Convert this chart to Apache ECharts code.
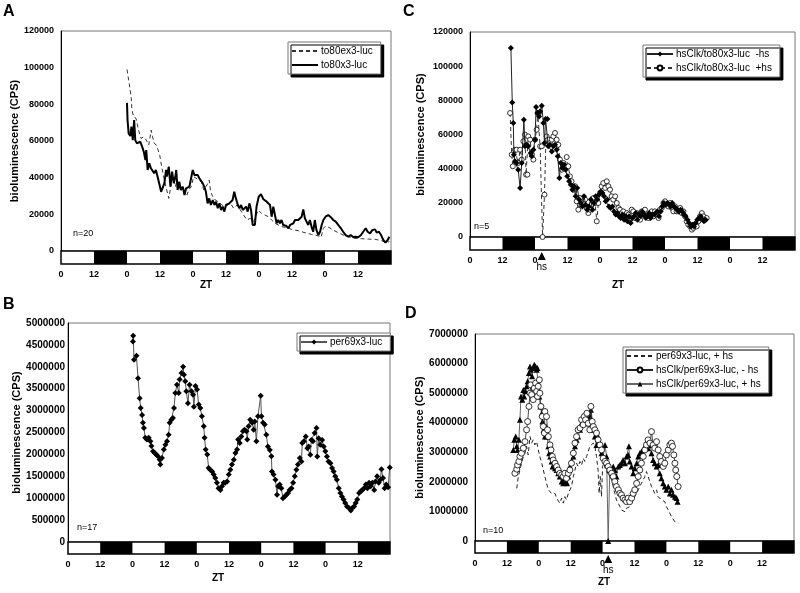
<!DOCTYPE html>
<html><head><meta charset="utf-8">
<script src="https://cdn.jsdelivr.net/npm/echarts@6/dist/echarts.min.js"></script>
<style>html,body{margin:0;padding:0;background:#fff}#c{width:800px;height:593px}</style>
</head><body><div id="c"></div>
<script>
// ---------- DATA ----------
const xTickLabels = ['0','12','0','12','0','12','0','12','0','12',''];
const ldDark = [[12,24],[36,48],[60,72],[84,96],[108,120]];

// Panel A
const aDashed = [[24.0,99000],[24.8,91400],[25.5,84000],[25.8,76800],[26.4,73200],[27.3,72300],[28.2,65900],[29.1,61400],[30.1,62300],[31.0,60500],[31.9,57800],[32.8,65900],[33.3,62300],[33.9,58700],[34.7,57800],[35.3,55100],[35.9,52300],[36.5,46900],[37.1,42400],[37.7,37800],[38.3,34200],[39.2,28700],[39.8,34200],[40.4,40600],[41.0,37800],[41.6,35100],[42.2,38700],[43.0,34200],[44.0,35100],[44.9,32300],[45.8,30500],[46.4,33300],[47.4,35100],[48.2,40600],[49.1,39700],[50.0,38700],[51.0,37800],[51.9,33300],[52.7,35100],[53.4,36900],[53.9,38700],[54.4,32300],[55.2,29600],[56.1,27800],[57.1,26900],[58.0,26000],[59.2,24200],[60.4,25100],[61.6,26000],[62.8,23300],[64.0,25100],[65.2,22400],[66.4,19600],[67.6,16900],[68.8,17800],[70.1,16000],[70.5,16900],[71.7,22300],[72.9,20500],[74.2,19600],[75.4,18700],[76.6,16900],[77.8,15100],[79.0,14200],[80.2,13300],[81.4,12900],[82.7,12400],[83.9,11800],[85.1,11400],[86.3,11100],[87.5,10500],[88.7,10000],[89.9,9600],[91.1,9000],[92.3,8700],[93.6,8200],[94.6,7500],[95.4,12400],[96.2,13600],[97.4,12900],[99.0,11400],[100.8,10000],[102.6,8700],[104.5,7800],[106.9,6900],[109.3,6700],[111.7,6500],[114.2,6400],[116.6,5600],[118.4,4600],[119.4,5100]];
const aSolid = [[24.0,80800],[24.2,71400],[24.6,64100],[25.2,62700],[25.6,67800],[26.1,60500],[26.6,71400],[27.0,60500],[27.6,58700],[28.2,57800],[28.8,59600],[29.5,56900],[30.1,54200],[30.7,49600],[31.0,55100],[31.5,44200],[32.1,47800],[32.7,45100],[33.3,46000],[33.9,42400],[34.5,44200],[35.1,40600],[35.7,37000],[36.4,32300],[37.0,33300],[37.6,37000],[38.2,44200],[38.5,40600],[39.2,46000],[39.8,35100],[40.4,43300],[41.0,37000],[41.6,40600],[41.9,44200],[42.4,33300],[43.0,37800],[43.6,33300],[44.3,35100],[44.9,30500],[45.5,34200],[46.1,33300],[46.7,35100],[47.3,36000],[47.9,44200],[48.5,41500],[49.1,40600],[49.7,41500],[50.3,39700],[50.9,38700],[51.5,37000],[52.1,35100],[52.7,32300],[53.3,26000],[53.9,28700],[54.5,25100],[55.2,27800],[55.8,25100],[56.4,26900],[57.0,23300],[57.6,26000],[58.2,22400],[58.8,24200],[59.4,21500],[60.0,25100],[60.6,24200],[61.2,26000],[61.8,25100],[62.4,27800],[63.0,32300],[63.6,28700],[64.3,25100],[64.9,23300],[65.5,25100],[66.1,22400],[66.7,21500],[67.3,24200],[67.9,21500],[68.5,26000],[69.1,22400],[69.7,14200],[70.3,13300],[70.5,14200],[71.1,24200],[71.9,29600],[72.7,31000],[73.6,28200],[74.2,28700],[74.8,26900],[75.4,27800],[76.0,25100],[76.6,18700],[77.2,24200],[77.8,24500],[78.4,15100],[79.0,16900],[79.6,15100],[80.2,16900],[80.8,14200],[81.4,13300],[82.0,13600],[82.7,12400],[83.3,14200],[83.9,13300],[84.5,15100],[85.1,16900],[85.7,16000],[86.3,16900],[86.9,16900],[87.5,18700],[88.1,22700],[88.7,17800],[89.3,16900],[89.9,14200],[90.5,16900],[91.1,13300],[91.7,10500],[92.3,16900],[92.9,11400],[93.6,8700],[94.2,10500],[94.8,14200],[95.4,16900],[96.2,18700],[97.2,19600],[98.2,18300],[99.0,16900],[99.9,16000],[100.8,14200],[101.8,12400],[102.6,10500],[103.5,8700],[104.5,7800],[105.4,8700],[106.3,7500],[107.1,7800],[108.1,7500],[109.1,8700],[109.9,10500],[110.8,12400],[111.5,10500],[112.4,9600],[113.2,11400],[114.2,11800],[114.8,10000],[115.6,10500],[116.4,8700],[117.2,6000],[118.0,4600],[118.8,6000],[119.4,7800]];

// Panel B
const bPer = [[24.2,4580000],[24.3,4710000],[24.6,4160000],[25.5,4250000],[26.1,3740000],[26.7,3280000],[27.1,3060000],[27.6,2900000],[27.9,2720000],[28.3,2600000],[28.8,2380000],[29.4,2340000],[30.1,2380000],[30.7,2300000],[31.1,2190000],[31.7,2070000],[32.3,2030000],[32.9,2000000],[33.5,1960000],[34.2,1880000],[34.4,1770000],[35.0,1920000],[35.7,2110000],[36.3,2220000],[36.9,2300000],[37.5,2450000],[37.9,2720000],[38.5,2790000],[39.1,2830000],[39.5,3060000],[40.0,3400000],[40.6,3590000],[41.3,3400000],[41.6,3710000],[42.3,3860000],[42.9,4000000],[43.2,3820000],[43.7,3670000],[44.1,3440000],[44.7,3170000],[45.3,3590000],[46.0,3440000],[46.6,3360000],[46.9,3090000],[47.5,3560000],[48.1,3480000],[48.7,3140000],[49.3,3060000],[49.9,2870000],[50.6,2640000],[50.9,2380000],[51.3,2110000],[51.9,2000000],[52.4,1690000],[53.0,1650000],[53.7,1610000],[54.3,1540000],[54.9,1460000],[55.5,1350000],[56.1,1230000],[56.8,1190000],[57.4,1270000],[58.0,1350000],[58.6,1350000],[59.3,1380000],[59.9,1540000],[60.5,1650000],[61.1,1770000],[61.8,1880000],[62.4,2030000],[63.0,2110000],[63.4,2340000],[64.0,2260000],[64.6,2410000],[65.2,2530000],[65.8,2560000],[66.5,2530000],[66.8,2340000],[67.3,2640000],[67.9,2790000],[68.6,2720000],[69.2,2560000],[69.6,2750000],[70.2,2300000],[70.8,2870000],[71.8,3340000],[72.1,2870000],[72.7,2720000],[73.3,2680000],[73.9,2450000],[74.5,2180000],[75.2,2100000],[75.8,1960000],[76.0,1610000],[76.6,1540000],[77.3,1420000],[77.9,1080000],[78.3,1270000],[78.9,1310000],[79.5,1230000],[80.1,1000000],[80.8,1040000],[81.4,1080000],[82.0,1120000],[82.6,1190000],[83.3,1230000],[83.9,1350000],[84.5,1500000],[85.1,1650000],[85.7,1770000],[86.4,1920000],[87.0,1840000],[87.3,2260000],[87.9,2300000],[88.6,2410000],[89.2,2140000],[89.7,2180000],[90.3,1990000],[90.7,2330000],[91.3,2300000],[91.9,2490000],[92.6,2600000],[92.9,1950000],[93.4,2370000],[94.0,2220000],[94.7,2330000],[95.3,2180000],[95.9,2070000],[96.5,1950000],[97.1,1840000],[97.8,1800000],[98.4,1690000],[99.0,1610000],[99.6,1500000],[100.2,1420000],[100.9,1230000],[101.5,1120000],[102.1,1040000],[102.7,970000],[103.3,890000],[104.0,810000],[104.6,780000],[105.4,720000],[106.0,780000],[106.6,810000],[107.2,890000],[107.8,970000],[108.5,1120000],[109.1,1160000],[109.7,1190000],[110.3,1230000],[111.0,1310000],[111.6,1230000],[112.2,1350000],[112.8,1270000],[113.4,1350000],[114.1,1190000],[114.6,1380000],[115.2,1500000],[115.8,1350000],[116.4,1420000],[116.8,1660000],[117.4,1460000],[118.0,1230000],[118.6,1310000],[119.3,1250000],[119.9,1700000]];

// Panel C
const cMinus = [[15.1,110600],[15.6,78800],[16.0,66700],[16.2,48200],[16.6,44300],[17.2,43300],[17.8,39400],[18.5,28700],[19.1,43300],[19.9,68700],[20.3,53100],[20.9,54000],[21.5,53100],[22.4,49200],[22.8,47200],[23.4,51100],[24.0,57000],[24.4,76100],[24.9,72600],[25.5,70600],[25.9,73600],[26.5,76900],[27.1,66700],[27.5,55000],[27.9,69100],[28.6,69100],[28.9,53100],[29.5,54000],[30.2,50100],[30.8,53100],[31.4,54000],[32.0,51100],[32.4,47200],[33.0,34500],[33.5,43300],[34.1,40400],[34.7,42300],[35.3,39400],[35.9,35500],[36.6,32600],[37.2,30600],[37.8,27700],[38.4,29700],[39.0,23800],[39.6,28700],[40.3,21900],[40.9,19900],[41.5,17900],[42.1,23800],[42.7,18900],[43.3,16000],[43.9,17900],[44.6,21900],[45.2,16000],[45.8,19900],[46.4,23800],[47.0,21900],[47.6,24800],[48.3,26700],[48.9,25800],[49.5,23800],[50.1,20900],[50.7,21900],[51.3,17900],[51.9,17000],[52.6,17900],[53.2,15000],[53.8,13100],[54.4,14000],[55.0,12100],[55.6,11100],[56.3,13100],[56.9,10100],[57.5,12100],[58.1,9200],[58.7,12100],[59.3,8200],[59.9,11100],[60.6,12100],[61.2,14000],[61.8,10100],[62.4,13100],[63.0,12100],[63.6,15000],[64.2,13100],[64.9,11100],[65.5,12100],[66.1,14000],[66.7,11100],[67.3,13100],[68.0,13100],[68.6,14000],[69.2,15000],[69.8,12100],[70.4,15000],[71.0,17900],[71.6,19900],[72.3,18900],[72.9,19900],[73.5,18900],[74.1,17900],[74.7,19900],[75.3,17900],[75.9,17000],[76.6,16000],[77.2,15000],[77.8,16000],[78.4,15000],[79.0,13100],[79.6,12100],[80.3,10100],[80.9,8200],[81.5,6200],[82.1,7200],[82.7,6200],[83.3,8200],[83.9,10100],[84.6,11100],[85.2,12100],[85.8,10100],[86.4,9200],[87.0,10100]];
const cPlus = [[14.8,72600],[15.4,48200],[15.8,41400],[16.6,51100],[17.2,51100],[17.8,43300],[18.5,51100],[19.1,45300],[19.7,56000],[20.3,59900],[20.7,36500],[21.2,36500],[21.5,58900],[22.2,57000],[22.8,48200],[23.4,45300],[24.0,57000],[24.6,62800],[25.0,72600],[25.5,72600],[25.9,53100],[26.5,53100],[26.8,0],[27.5,24800],[28.0,55000],[28.3,58900],[28.9,57000],[29.5,55000],[30.2,57000],[30.8,58900],[31.4,60900],[32.0,57000],[32.6,54000],[33.2,45300],[33.9,39400],[34.5,43300],[35.1,41400],[35.7,46800],[36.3,41400],[36.9,35500],[37.5,32600],[38.2,27700],[38.8,29700],[39.4,20900],[40.0,16000],[40.6,22800],[41.2,18900],[41.9,19900],[42.5,21900],[43.1,17000],[43.7,14000],[44.3,16000],[44.9,18900],[45.5,22800],[46.2,19900],[46.8,9200],[47.4,19900],[48.0,25800],[48.6,29700],[49.2,31600],[49.9,28700],[50.5,32600],[51.1,29700],[51.7,27700],[52.3,23800],[52.9,21900],[53.6,23800],[54.2,19900],[54.8,17000],[55.4,16000],[56.0,14000],[56.6,15000],[57.2,12100],[57.9,14000],[58.5,13100],[59.1,10100],[59.7,16000],[60.3,15000],[60.9,11100],[61.6,14000],[62.2,13100],[62.8,10100],[63.4,15000],[64.0,13100],[64.6,16000],[65.2,12100],[65.9,11100],[66.5,13100],[67.1,15000],[67.7,12100],[68.3,15000],[68.9,13100],[69.6,11100],[70.2,16000],[70.8,17000],[71.4,19900],[72.0,20900],[72.6,18900],[73.2,17900],[73.9,19900],[74.5,17000],[75.1,15000],[75.7,17900],[76.3,15000],[76.9,15000],[77.6,17000],[78.2,14000],[78.8,15000],[79.4,12100],[80.0,9200],[80.6,7200],[81.3,6200],[81.9,4300],[82.5,5300],[83.1,7200],[83.7,6200],[84.3,9200],[84.9,12100],[85.6,14000],[86.2,12100],[86.8,10100],[87.4,11100]];
const cHsTime = 26.5;

// Panel D
const dDashed = [[15.7,1780000],[16.3,2180000],[16.9,2400000],[17.5,2630000],[18.2,2860000],[18.8,2970000],[19.4,3200000],[20.0,2910000],[20.7,3530000],[21.0,3560000],[21.3,3310000],[21.9,3420000],[22.5,3250000],[23.2,3360000],[23.8,3080000],[24.4,2860000],[25.1,2630000],[25.7,2400000],[26.3,2180000],[26.9,1950000],[27.6,1730000],[28.2,1670000],[28.8,1610000],[29.4,1560000],[30.1,1610000],[30.7,1450000],[31.3,1390000],[31.9,1280000],[32.6,1450000],[33.2,1280000],[33.8,1500000],[34.4,1390000],[35.1,1610000],[35.7,1730000],[36.3,1840000],[37.0,2180000],[37.6,2400000],[38.2,2630000],[38.8,2520000],[39.5,2690000],[40.1,2570000],[40.7,2800000],[41.3,2690000],[42.0,2860000],[42.6,3030000],[43.2,3200000],[43.8,3250000],[44.5,3310000],[45.1,3200000],[45.7,2860000],[46.3,2400000],[46.7,1610000],[47.1,2180000],[47.6,1500000],[48.0,2520000],[48.5,2630000],[49.1,2400000],[50.7,2180000],[51.4,2070000],[52.0,1840000],[52.6,1610000],[53.2,1390000],[53.9,1280000],[54.5,1160000],[55.1,1050000],[55.7,1110000],[56.4,990000],[57.0,1110000],[57.6,1050000],[58.2,1160000],[58.9,1280000],[59.5,1390000],[60.1,1500000],[60.8,1610000],[61.4,1730000],[62.0,1840000],[62.6,1950000],[63.3,2070000],[63.9,2180000],[64.5,2350000],[65.1,2180000],[65.8,2010000],[66.4,1840000],[67.0,1730000],[67.6,1610000],[68.3,1730000],[68.9,1500000],[69.5,1450000],[70.1,1390000],[70.8,1450000],[71.4,1330000],[72.0,1160000],[72.7,1050000],[73.3,940000],[73.9,820000],[74.5,770000],[75.2,650000],[75.8,710000],[76.4,600000]];
const dCircles = [[15.0,2290000],[15.7,2430000],[16.0,2570000],[16.5,2690000],[16.9,2860000],[17.5,2970000],[18.2,3140000],[18.8,3360000],[19.4,3760000],[19.8,4040000],[20.3,4550000],[20.7,5000000],[21.0,5280000],[21.3,4950000],[21.9,4780000],[22.3,5170000],[22.8,5340000],[23.2,5060000],[23.5,4890000],[23.8,5230000],[24.2,5450000],[24.4,5000000],[24.8,4550000],[25.3,4210000],[25.7,3870000],[26.1,3650000],[26.3,4380000],[26.9,4210000],[27.3,3760000],[27.6,3530000],[28.2,3250000],[28.6,3080000],[29.1,2860000],[29.4,2740000],[30.1,2630000],[30.7,2520000],[31.3,2400000],[31.9,2290000],[32.6,2240000],[33.2,2180000],[33.8,2290000],[34.4,2120000],[35.1,2290000],[35.7,2400000],[36.3,2630000],[37.0,2970000],[37.6,3310000],[38.2,3530000],[38.8,3760000],[39.5,3820000],[40.1,4100000],[40.7,3930000],[41.1,4210000],[41.6,4100000],[42.1,4320000],[42.6,3980000],[43.2,3760000],[43.6,4550000],[44.1,4040000],[44.5,3870000],[45.1,3760000],[45.7,3650000],[46.3,3420000],[47.0,3250000],[47.6,3080000],[48.2,2800000],[48.9,2690000],[49.5,2630000],[50.1,2520000],[50.7,2400000],[51.4,2290000],[52.0,2180000],[52.6,2010000],[53.2,1840000],[53.9,1730000],[54.5,1610000],[55.1,1560000],[55.7,1450000],[56.4,1390000],[57.0,1330000],[57.6,1450000],[58.2,1330000],[58.9,1450000],[59.5,1610000],[60.1,1730000],[60.8,1950000],[61.4,2180000],[62.0,2400000],[62.6,2630000],[63.3,2860000],[63.9,3080000],[64.5,3250000],[65.1,3420000],[65.8,3310000],[66.4,3700000],[67.0,3250000],[67.6,3140000],[68.3,3360000],[68.9,3080000],[69.5,2860000],[70.1,2690000],[70.8,2520000],[71.4,2630000],[72.0,2910000],[72.7,3080000],[73.3,3250000],[73.9,3310000],[74.3,3200000],[74.8,2910000],[75.2,2630000],[75.5,2400000],[75.9,2180000],[76.4,1840000]];
const dTriangles = [[14.4,3080000],[14.8,3420000],[15.3,3530000],[15.7,3200000],[16.0,3080000],[16.5,3420000],[16.9,4100000],[17.3,4890000],[17.8,4780000],[18.2,5110000],[18.5,4890000],[19.0,5060000],[19.4,5230000],[19.8,5400000],[20.3,5680000],[20.7,5900000],[21.0,5790000],[21.5,5570000],[21.9,5850000],[22.3,5960000],[22.8,5900000],[23.2,5790000],[23.5,5850000],[23.8,5340000],[24.2,4890000],[24.6,4550000],[25.1,4320000],[25.4,4040000],[25.8,3760000],[26.3,3530000],[26.7,3870000],[27.1,3530000],[27.6,3200000],[27.9,2970000],[28.3,2860000],[28.8,2690000],[29.2,2520000],[29.6,2570000],[30.1,2460000],[30.7,2400000],[31.3,2290000],[31.9,2180000],[32.6,2010000],[33.2,1950000],[33.6,2120000],[34.1,2010000],[34.6,1950000],[35.1,2180000],[35.7,2520000],[36.3,2690000],[37.0,2860000],[37.6,3200000],[38.2,3420000],[38.8,3530000],[39.5,3760000],[40.1,3980000],[40.7,4100000],[41.3,4270000],[42.0,4100000],[42.6,3980000],[43.2,4210000],[43.6,4440000],[44.1,3980000],[44.5,3760000],[45.1,3530000],[45.7,3250000],[46.3,3530000],[47.0,3310000],[47.6,2970000],[48.2,2860000],[48.9,3250000],[49.5,2860000],[50.1,0],[50.7,2400000],[51.4,2290000],[52.0,2520000],[52.6,2400000],[53.2,2180000],[53.9,2520000],[54.5,2570000],[55.1,2630000],[55.7,2740000],[56.4,2630000],[57.0,2860000],[57.6,2910000],[57.9,3200000],[58.2,2690000],[58.9,2520000],[59.5,2290000],[60.1,2460000],[60.8,2630000],[61.4,2860000],[62.0,2970000],[62.6,3030000],[63.3,3080000],[63.9,3200000],[64.5,3310000],[65.1,3140000],[65.8,3250000],[66.4,2970000],[67.0,2740000],[67.6,2630000],[68.3,2520000],[68.9,2570000],[69.5,2290000],[70.1,2120000],[70.8,1950000],[71.4,1840000],[72.0,1730000],[72.7,1840000],[73.3,1610000],[73.9,1730000],[74.5,1560000],[75.2,1500000],[75.8,1450000],[76.2,1330000]];
const dHsTime = 50.1;

// ---------- LAYOUT / STYLE ----------
const FONT = '"Liberation Sans", Arial, Helvetica, sans-serif';

const panels = [
  { letter:'A', letterPos:[3,4], n:'n=20', nPos:[73,229], zt:[200,280],
    grid:{left:61,top:31,width:330,height:220}, barH:13,
    yMax:120000, yStep:20000, yFont:9, yMargin:7, nameGap:33,
    legend:{left:288,top:42},
    series:[
      {name:'to80ex3-luc', data:aDashed, lc:'#333', lw:1, lt:[4,3]},
      {name:'to80x3-luc', data:aSolid, lc:'#000', lw:2}
    ], hs:null },
  { letter:'B', letterPos:[3,297], n:'n=17', nPos:[77,523], zt:[212,573],
    grid:{left:68,top:323,width:322,height:219}, barH:12,
    yMax:5000000, yStep:500000, yFont:10, yMargin:3, nameGap:41,
    legend:{left:297,top:333},
    series:[
      {name:'per69x3-luc', data:bPer, lc:'#555', lw:1, symbol:'diamond', size:6, item:{color:'#000'}}
    ], hs:null },
  { letter:'C', letterPos:[403,4], n:'n=5', nPos:[474,222], zt:[612,280],
    grid:{left:470,top:32,width:325,height:205}, barH:13,
    yMax:120000, yStep:20000, yFont:9, yMargin:7, nameGap:44,
    legend:{left:643,top:45},
    series:[
      {name:'hsClk/to80x3-luc  -hs', data:cMinus, lc:'#222', lw:1, symbol:'diamond', size:6, item:{color:'#000'}, z:3},
      {name:'hsClk/to80x3-luc  +hs', data:cPlus, lc:'#333', lw:1, lt:[4,3], symbol:'circle', size:5, item:{color:'#fff', borderColor:'#000', borderWidth:0.8}}
    ], hs:cHsTime },
  { letter:'D', letterPos:[405,306], n:'n=10', nPos:[483,526], zt:[598,577],
    grid:{left:475,top:334,width:319,height:207}, barH:12,
    yMax:7000000, yStep:1000000, yFont:10, yMargin:7, nameGap:46,
    legend:{left:623,top:347},
    series:[
      {name:'per69x3-luc, + hs', data:dDashed, lc:'#222', lw:1, lt:[4,3]},
      {name:'hsClk/per69x3-luc, - hs', data:dCircles, lc:'#222', lw:0.8, symbol:'circle', size:6, item:{color:'#fff', borderColor:'#000', borderWidth:0.8}, z:3},
      {name:'hsClk/per69x3-luc, + hs', data:dTriangles, lc:'#666', lw:1, symbol:'triangle', size:6, item:{color:'#000'}}
    ], hs:dHsTime }
];

const grids = [], xAxes = [], yAxes = [], series = [], legends = [], titles = [];

panels.forEach((p, i) => {
  const mi = i * 2, bi = i * 2 + 1;
  const g = p.grid;
  grids.push({left:g.left, top:g.top, width:g.width, height:g.height, show:true, borderColor:'#777', borderWidth:1, backgroundColor:'transparent'});
  grids.push({left:g.left, top:g.top + g.height, width:g.width, height:p.barH, show:true, borderColor:'#000', borderWidth:1.5, backgroundColor:'#fff'});
  xAxes.push({type:'value', gridIndex:mi, min:0, max:120, interval:12, show:false});
  xAxes.push({type:'value', gridIndex:bi, min:0, max:120, interval:12,
    axisLine:{show:false}, axisTick:{show:false}, splitLine:{show:false},
    axisLabel:{show:true, margin:6, fontSize:9, fontWeight:'bold', color:'#000', fontFamily:FONT,
      formatter:(v) => xTickLabels[Math.round(v / 12)] }});
  yAxes.push({type:'value', gridIndex:mi, min:0, max:p.yMax, interval:p.yStep,
    axisLine:{show:true, lineStyle:{color:'#000', width:1}}, axisTick:{show:false}, splitLine:{show:false},
    axisLabel:{margin:p.yMargin, fontSize:p.yFont, fontWeight:'bold', color:'#000', fontFamily:FONT,
      formatter:(v) => String(v)},
    name:'bioluminescence (CPS)', nameLocation:'middle', nameGap:p.nameGap,
    nameTextStyle:{fontSize:11, fontWeight:'bold', color:'#000', fontFamily:FONT}});
  yAxes.push({type:'value', gridIndex:bi, min:0, max:1, show:false});

  p.series.forEach(s => {
    series.push({
      type:'line', name:s.name, data:s.data, xAxisIndex:mi, yAxisIndex:mi,
      animation:false, silent:true, emphasis:{disabled:true},
      showSymbol:!!s.symbol, symbol:s.symbol || 'none', symbolSize:s.size || 0,
      lineStyle:{color:s.lc, width:s.lw, type:s.lt || 'solid'},
      itemStyle:s.item || {color:s.lc}, z:s.z || 2
    });
  });

  const dummy = {
    type:'line', name:'ld' + p.letter, data:[[0,0.5]], xAxisIndex:bi, yAxisIndex:bi,
    symbol:'none', lineStyle:{opacity:0}, animation:false, silent:true, clip:false,
    markArea:{silent:true, itemStyle:{color:'#000'},
      data: ldDark.map(([a,b]) => [{xAxis:a},{xAxis:b}])}
  };
  if (p.hs !== null) {
    dummy.markPoint = {silent:true, symbol:'triangle', symbolSize:[8,8], symbolOffset:[0,6],
      itemStyle:{color:'#000'},
      label:{show:true, position:'bottom', distance:2, formatter:'hs', fontSize:10, color:'#000', fontFamily:FONT},
      data:[{coord:[p.hs, 0]}]};
  }
  series.push(dummy);

  legends.push({
    left:p.legend.left, top:p.legend.top, orient:'vertical',
    data:p.series.map(s => s.symbol ? {name:s.name} : {name:s.name, itemStyle:{opacity:0}}),
    backgroundColor:'#fff', borderColor:'#777', borderWidth:1,
    shadowColor:'#000', shadowOffsetX:3, shadowOffsetY:3, shadowBlur:0.5,
    padding:[4,8,4,3], itemGap:4, itemWidth:26, itemHeight:6,
    selectedMode:false,
    textStyle:{fontSize:10, color:'#000', fontFamily:FONT, padding:[0,0,0,-2]}
  });

  titles.push({text:p.letter, left:p.letterPos[0], top:p.letterPos[1],
    textStyle:{fontSize:16, fontWeight:'bold', color:'#000', fontFamily:FONT}, padding:0});
  titles.push({text:p.n, left:p.nPos[0], top:p.nPos[1],
    textStyle:{fontSize:9, fontWeight:'normal', color:'#000', fontFamily:FONT}, padding:0});
  titles.push({text:'ZT', left:p.zt[0], top:p.zt[1],
    textStyle:{fontSize:10, fontWeight:'bold', color:'#000', fontFamily:FONT}, padding:0});
});

const chart = echarts.init(document.getElementById('c'), null, {renderer:'canvas'});
chart.setOption({
  backgroundColor:'#fff',
  animation:false,
  textStyle:{fontFamily:FONT},
  title:titles,
  legend:legends,
  grid:grids,
  xAxis:xAxes,
  yAxis:yAxes,
  series:series
});
</script></body></html>
